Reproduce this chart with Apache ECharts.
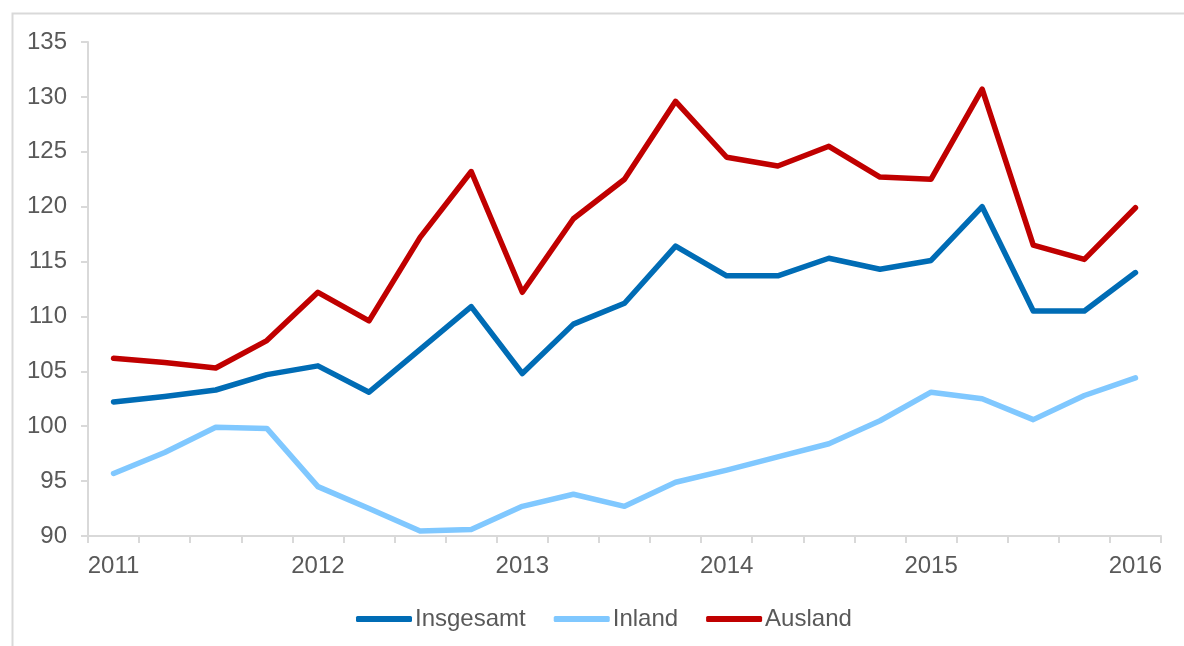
<!DOCTYPE html>
<html>
<head>
<meta charset="utf-8">
<script src="https://cdn.jsdelivr.net/npm/echarts@6/dist/echarts.min.js"></script>
<style>
html,body{margin:0;padding:0;background:#fff;}
#chart{width:1184px;height:646px;}
</style>
</head>
<body>
<div id="chart"></div>
<script>
const categories = ['2011','2011 Q2','2011 Q3','2011 Q4','2012','2012 Q2','2012 Q3','2012 Q4','2013','2013 Q2','2013 Q3','2013 Q4','2014','2014 Q2','2014 Q3','2014 Q4','2015','2015 Q2','2015 Q3','2015 Q4','2016'];
const yearLabels = ['2011','2012','2013','2014','2015','2016'];
const insgesamt = [102.2,102.7,103.3,104.7,105.5,103.1,107.0,110.9,104.8,109.3,111.2,116.4,113.7,113.7,115.3,114.3,115.1,120.0,110.5,110.5,114.0];
const inland    = [95.7,97.6,99.9,99.8,94.5,92.5,90.45,90.6,92.7,93.8,92.7,94.9,96.0,97.2,98.4,100.5,103.1,102.5,100.6,102.8,104.4];
const ausland   = [106.2,105.8,105.3,107.8,112.2,109.6,117.2,123.2,112.2,118.9,122.5,129.6,124.5,123.7,125.5,122.7,122.5,130.7,116.5,115.2,119.9];
const seriesNames = ['Insgesamt','Inland','Ausland'];
const colors = ['#006CB5','#80C8FF','#C00000'];

const textColor = '#595959';
const fontFamily = '"Liberation Sans", Arial, sans-serif';
const chart = echarts.init(document.getElementById('chart'));
const allData = [insgesamt, inland, ausland];
chart.setOption({
  animation: false,
  backgroundColor: '#fff',
  textStyle: {fontFamily: fontFamily, color: textColor},
  graphic: [{
    type: 'rect', left: 10, top: 11, silent: true,
    shape: {width: 1250, height: 700},
    style: {fill: 'none', stroke: '#d9d9d9', lineWidth: 2}
  }],
  grid: {left: 88, right: 23, top: 42, bottom: 110, containLabel: false},
  legend: {
    left: 351, top: 602,
    itemWidth: 56, itemHeight: 6, itemGap: 28,
    icon: 'roundRect',
    textStyle: {fontSize: 24, color: textColor, fontFamily: fontFamily, padding: [0, 0, 0, -2]},
    data: seriesNames
  },
  xAxis: {
    type: 'category',
    data: categories,
    boundaryGap: true,
    axisLine: {lineStyle: {color: '#d9d9d9', width: 2}},
    axisTick: {show: true, interval: 0, length: 7, lineStyle: {color: '#d9d9d9', width: 2}},
    axisLabel: {
      interval: 3, margin: 18, fontSize: 24, color: textColor, fontFamily: fontFamily,
      formatter: function (v) { return yearLabels.indexOf(v) >= 0 ? v : ''; }
    },
    splitLine: {show: false}
  },
  yAxis: {
    type: 'value', min: 90, max: 135, interval: 5,
    axisLine: {show: true, lineStyle: {color: '#d9d9d9', width: 2}},
    axisTick: {show: true, length: 7, lineStyle: {color: '#d9d9d9', width: 2}},
    axisLabel: {margin: 21, fontSize: 24, color: textColor, fontFamily: fontFamily},
    splitLine: {show: false}
  },
  series: seriesNames.map((n, i) => ({
    name: n, type: 'line', data: allData[i],
    symbol: 'none', showSymbol: false,
    itemStyle: {color: colors[i]},
    lineStyle: {color: colors[i], width: 5.5, cap: 'round', join: 'round'}
  }))
});
</script>
</body>
</html>
